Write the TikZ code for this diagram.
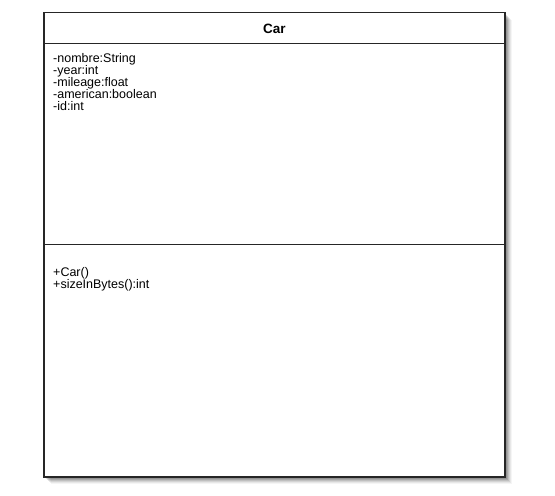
\documentclass[tikz,border=0pt]{standalone}
\usepackage{fontspec}
\setmainfont{Liberation Sans}
\begin{document}
\begin{tikzpicture}[x=1pt,y=-1pt,
  classbox/.style={draw=black!85,line width=1.3pt,fill=white},
  member/.style={anchor=base west,inner sep=0pt,font=\fontsize{12.5}{12.5}\selectfont},
  titletext/.style={font=\bfseries\fontsize{13.5}{13.5}\selectfont,inner sep=0pt}]
\useasboundingbox (0,0) rectangle (555,496);
% shadow
\foreach \d/\o in {1/0.12,2/0.12,3/0.12,4/0.10,5/0.08,6/0.06,7/0.04}{
  \fill[black,opacity=\o] (44+\d,12.7+\d) rectangle (505+\d,477+\d);
}
\draw[classbox] (44,12.7) rectangle (505,477);
\coordinate (hl) at (44,43.7);
\coordinate (hr) at (505,43.7);
\coordinate (dl) at (44,244.7);
\coordinate (dr) at (505,244.7);
\draw[draw=black!85,line width=1.3pt] (hl) -- (hr);
\draw[draw=black!85,line width=1.3pt] (dl) -- (dr);
\node[titletext] (title) at (274.5,28.5) {Car};
\node[member] (a1) at (53,62) {-nombre:String};
\node[member] (a2) at (53,74) {-year:int};
\node[member] (a3) at (53,86) {-mileage:float};
\node[member] (a4) at (53,98) {-american:boolean};
\node[member] (a5) at (53,110) {-id:int};
\node[member] (m1) at (53,276) {+Car()};
\node[member] (m2) at (53,288) {+sizeInBytes():int};
\end{tikzpicture}
\end{document}
